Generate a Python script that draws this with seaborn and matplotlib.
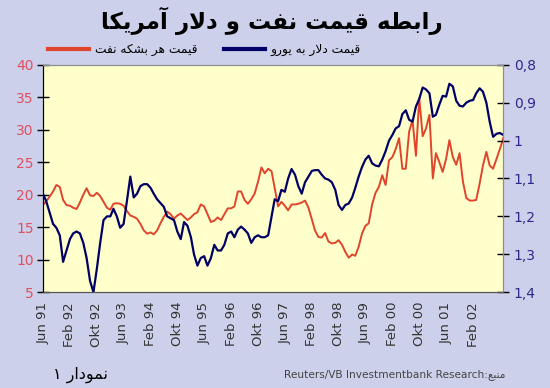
import pandas as pd
import numpy as np
import matplotlib
matplotlib.use("Agg")
import matplotlib.pyplot as plt
import seaborn as sns
from matplotlib.lines import Line2D

# ---- data (monthly, Jun 1991 - Nov 2002) ----
start_month = "1991-06-01"
oil_price = [
    18.4, 19.0, 19.7, 20.5, 21.5, 21.2, 19.2, 18.4, 18.3, 18.0,
    17.8, 18.8, 20.0, 21.0, 19.9, 19.8, 20.3, 19.8, 18.9, 18.0,
    17.7, 18.6, 18.7, 18.6, 18.3, 17.5, 16.8, 16.6, 16.3, 15.5,
    14.5, 14.0, 14.2, 13.9, 14.5, 15.6, 16.6, 17.4, 17.0, 16.3,
    16.8, 17.1, 16.6, 16.1, 16.5, 17.0, 17.3, 18.5, 18.2, 17.0,
    15.8, 16.0, 16.5, 16.1, 17.0, 17.9, 17.9, 18.2, 20.5, 20.5,
    19.2, 18.6, 19.3, 20.2, 22.0, 24.2, 23.3, 24.0, 23.6, 21.0,
    18.2, 18.9, 18.3, 17.6, 18.5, 18.5, 18.6, 18.8, 19.1, 18.0,
    16.2, 14.5, 13.5, 13.4, 14.1, 12.8, 12.5, 12.6, 13.0, 12.3,
    11.2, 10.3, 10.8, 10.6, 12.0, 14.0, 15.2, 15.6, 18.5, 20.3,
    21.2, 23.0, 21.5, 25.3, 25.8, 27.0, 28.7, 24.0, 24.0, 29.7,
    31.5, 26.0, 34.9, 29.0, 30.2, 32.3, 22.5, 26.4, 25.0, 23.5,
    25.5, 28.4, 25.8, 24.6, 26.4, 22.0, 19.5, 19.1, 19.1, 19.2,
    21.7, 24.5, 26.6, 24.5, 24.0, 25.5, 27.0, 28.7,
]
usd_eur = [
    1.14, 1.16, 1.19, 1.22, 1.23, 1.25, 1.32, 1.29, 1.26, 1.245,
    1.24, 1.245, 1.27, 1.31, 1.37, 1.40, 1.34, 1.27, 1.21, 1.20,
    1.20, 1.18, 1.20, 1.23, 1.22, 1.16, 1.095, 1.15, 1.14, 1.12,
    1.115, 1.115, 1.125, 1.14, 1.155, 1.165, 1.175, 1.20, 1.205, 1.21,
    1.24, 1.26, 1.215, 1.225, 1.255, 1.30, 1.33, 1.31, 1.305, 1.33,
    1.31, 1.275, 1.29, 1.29, 1.275, 1.245, 1.24, 1.255, 1.235, 1.227,
    1.235, 1.245, 1.27, 1.255, 1.25, 1.255, 1.255, 1.25, 1.20, 1.155,
    1.16, 1.13, 1.135, 1.10, 1.075, 1.09, 1.12, 1.14, 1.11, 1.095,
    1.08, 1.078, 1.078, 1.09, 1.10, 1.103, 1.11, 1.13, 1.17, 1.183,
    1.17, 1.166, 1.15, 1.125, 1.095, 1.07, 1.05, 1.04, 1.06, 1.066,
    1.068, 1.05, 1.028, 1.00, 0.985, 0.968, 0.962, 0.93, 0.92, 0.945,
    0.95, 0.91, 0.89, 0.86, 0.865, 0.875, 0.937, 0.932, 0.905, 0.882,
    0.884, 0.850, 0.857, 0.895, 0.908, 0.910, 0.90, 0.895, 0.893, 0.875,
    0.862, 0.871, 0.90, 0.95, 0.99, 0.982, 0.98, 0.985,
]
xtick_labels = ["Jun 91", "Feb 92", "Okt 92", "Jun 93", "Feb 94", "Okt 94",
                "Jun 95", "Feb 96", "Okt 96", "Jun 97", "Feb 98", "Okt 98",
                "Jun 99", "Feb 00", "Okt 00", "Jun 01", "Feb 02"]
left_ticks = [5, 10, 15, 20, 25, 30, 35, 40]
right_ticks = [0.8, 0.9, 1.0, 1.1, 1.2, 1.3, 1.4]
right_labels = ["0,8", "0,9", "1", "1,1", "1,2", "1,3", "1,4"]

title_fa = "رابطه قیمت نفت و دلار آمریکا"
oil_label = "قیمت هر بشکه نفت"
usd_label = "قیمت دلار به یورو"
fig_label = "نمودار ۱"
source_word = "منبع"
source_text = "Reuters/VB Investmentbank Research"

# ---- minimal persian shaping (matplotlib has no bidi / joining) ----
FORMS = {
    'ا': ('\ufe8d', '\ufe8e', None, None),
    'آ': ('\ufe81', '\ufe82', None, None),
    'ب': ('\ufe8f', '\ufe90', '\ufe91', '\ufe92'),
    'ت': ('\ufe95', '\ufe96', '\ufe97', '\ufe98'),
    'د': ('\ufea9', '\ufeaa', None, None),
    'ر': ('\ufead', '\ufeae', None, None),
    'ش': ('\ufeb5', '\ufeb6', '\ufeb7', '\ufeb8'),
    'ط': ('\ufec1', '\ufec2', '\ufec3', '\ufec4'),
    'ع': ('\ufec9', '\ufeca', '\ufecb', '\ufecc'),
    'ف': ('\ufed1', '\ufed2', '\ufed3', '\ufed4'),
    'ق': ('\ufed5', '\ufed6', '\ufed7', '\ufed8'),
    'ل': ('\ufedd', '\ufede', '\ufedf', '\ufee0'),
    'م': ('\ufee1', '\ufee2', '\ufee3', '\ufee4'),
    'ن': ('\ufee5', '\ufee6', '\ufee7', '\ufee8'),
    'ه': ('\ufee9', '\ufeea', '\ufeeb', '\ufeec'),
    'و': ('\ufeed', '\ufeee', None, None),
    'ی': ('\ufbfc', '\ufbfd', '\ufbfe', '\ufbff'),
    'ک': ('\ufb8e', '\ufb8f', '\ufb90', '\ufb91'),
}
LAM_ALEF = {'ا': ('\ufefb', '\ufefc'), 'آ': ('\ufef5', '\ufef6')}


def fa(s):
    res = []
    i = 0
    while i < len(s):
        c = s[i]
        prev = s[i - 1] if i > 0 else None
        nxt = s[i + 1] if i + 1 < len(s) else None
        if c not in FORMS:
            res.append(c)
            i += 1
            continue
        jp = prev in FORMS and FORMS[prev][2] is not None
        if c == 'ل' and nxt in LAM_ALEF:
            res.append(LAM_ALEF[nxt][1 if jp else 0])
            i += 2
            continue
        jn = FORMS[c][2] is not None and nxt in FORMS
        iso, fin, ini, med = FORMS[c]
        if jp and jn:
            res.append(med)
        elif jp:
            res.append(fin)
        elif jn:
            res.append(ini)
        else:
            res.append(iso)
        i += 1
    return "".join(reversed(res))


df = pd.DataFrame({
    "date": pd.date_range(start_month, periods=len(oil_price), freq="MS"),
    "oil": oil_price,
    "usd": usd_eur,
})
tick_dates = pd.date_range(start_month, periods=len(xtick_labels), freq="8MS")

red = "#e0442c"
navy = "#000066"

plt.rcParams["font.family"] = ["DejaVu Sans"]
fig = plt.figure(figsize=(5.5, 3.88), dpi=100, facecolor="#cdd0ea")
ax = fig.add_axes([0.078, 0.247, 0.837, 0.586])
ax.set_facecolor("#ffffcc")

sns.lineplot(data=df, x="date", y="oil", ax=ax, color=red, linewidth=1.4)
ax2 = ax.twinx()
sns.lineplot(data=df, x="date", y="usd", ax=ax2, color=navy, linewidth=1.6)

ax.set_xlim(df["date"].iloc[0], df["date"].iloc[-1])
ax.set_ylim(5, 40)
ax2.set_ylim(1.4, 0.8)

ax.set_yticks(left_ticks)
ax.set_yticklabels([str(v) for v in left_ticks])
ax2.set_yticks(right_ticks)
ax2.set_yticklabels(right_labels)
ax.set_xticks(tick_dates)
ax.set_xticklabels(xtick_labels, rotation=90)

ax.set_xlabel("")
ax.set_ylabel("")
ax2.set_ylabel("")

ax.tick_params(axis="y", direction="inout", length=9, width=1, colors="black",
               labelcolor="#e05060", labelsize=10, pad=2)
ax.tick_params(axis="x", length=0, labelsize=9.5, labelcolor="#333333", pad=7)
ax2.tick_params(axis="y", direction="inout", length=9, width=1, colors="black",
                labelcolor="#2a2a8a", labelsize=10, pad=3)

for a in (ax, ax2):
    a.spines["top"].set_color("#8c8c8c")
    a.spines["right"].set_color("#8c8c8c")
    a.spines["left"].set_color("black")
    a.spines["bottom"].set_color("#555555")

fig.text(0.495, 0.945, fa(title_fa), ha="center", va="center",
         fontsize=16.5, fontweight="bold", color="black")

handles = [Line2D([], [], color=red, linewidth=3),
           Line2D([], [], color=navy, linewidth=3)]
fig.legend(handles, [fa(oil_label), fa(usd_label)], loc="center left",
           bbox_to_anchor=(0.068, 0.872), ncol=2, frameon=False, fontsize=8.8,
           handlelength=3.3, handletextpad=0.5, columnspacing=2.2)

fig.text(0.196, 0.035, fa(fig_label), ha="right", va="center", fontsize=11.5,
         color="black")
fig.text(0.918, 0.035, source_text + ":" + fa(source_word), ha="right",
         va="center", fontsize=7.6, color="#444444")

fig.savefig("out.png", dpi=100, facecolor=fig.get_facecolor())
